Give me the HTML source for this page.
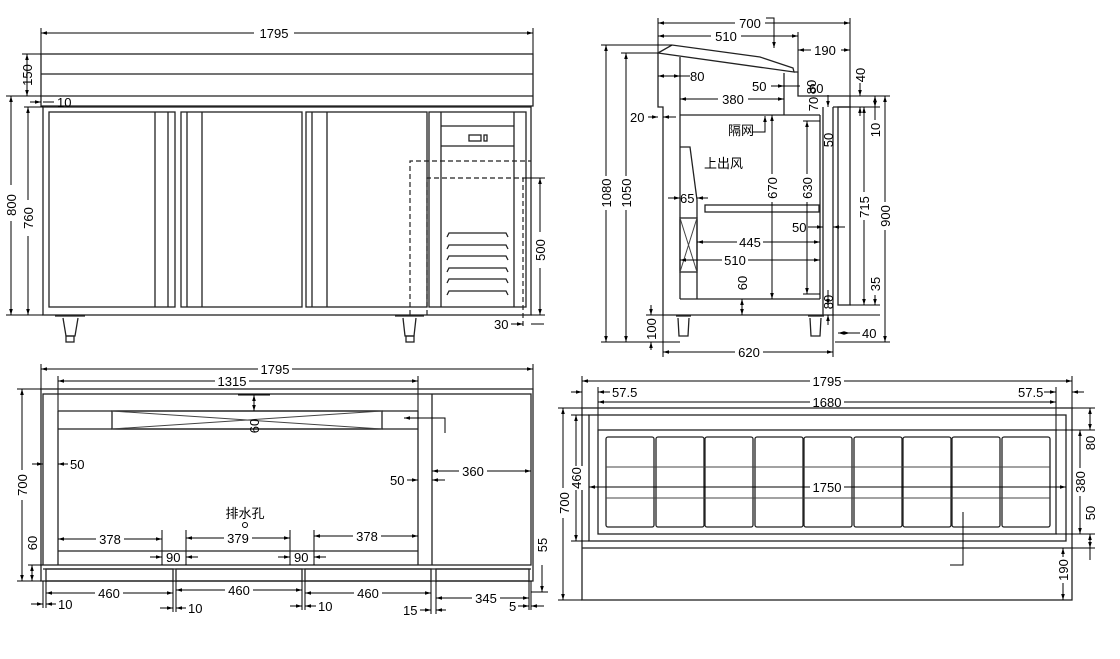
<!DOCTYPE html>
<html><head><meta charset="utf-8"><style>
html,body{margin:0;padding:0;background:#fff}
svg{display:block}
text{font-family:"Liberation Sans","Noto Sans CJK SC",sans-serif;font-size:13px;fill:#000}
.s{stroke:#222;stroke-width:1.3;fill:none}
.t{stroke:#444;stroke-width:1;fill:none}
.d{stroke:#000;stroke-width:1;fill:none;marker-start:url(#a);marker-end:url(#a)}
.e{stroke:#000;stroke-width:1;fill:none}
.h{stroke:#222;stroke-width:1.2;fill:none;stroke-dasharray:5,3}
</style></head><body>
<svg width="1120" height="659" viewBox="0 0 1120 659" xmlns="http://www.w3.org/2000/svg">
<defs><marker id="a" viewBox="0 0 10 10" refX="10" refY="5" markerWidth="6" markerHeight="6" orient="auto-start-reverse"><path d="M0,2 L10,5 L0,8 z" fill="#000"/></marker></defs>

<!-- ============ FRONT VIEW ============ -->
<line class="d" x1="41" y1="33" x2="533" y2="33"/><line class="e" x1="41" y1="28" x2="41" y2="54"/><line class="e" x1="533" y1="28" x2="533" y2="54"/>
<rect x="254" y="26" width="40" height="14" fill="#fff"/><text x="274" y="38" text-anchor="middle">1795</text>
<rect class="s" x="41" y="54" width="492" height="52"/>
<line class="s" x1="41" y1="74" x2="533" y2="74"/><line class="s" x1="41" y1="96" x2="533" y2="96"/>
<rect class="s" x="43" y="107" width="488" height="208"/>
<rect class="s" x="49" y="112" width="126" height="195"/><line class="s" x1="155" y1="112" x2="155" y2="307"/><line class="s" x1="168" y1="112" x2="168" y2="307"/>
<rect class="s" x="181" y="112" width="121" height="195"/><line class="s" x1="187" y1="112" x2="187" y2="307"/><line class="s" x1="202" y1="112" x2="202" y2="307"/>
<rect class="s" x="306" y="112" width="121" height="195"/><line class="s" x1="312" y1="112" x2="312" y2="307"/><line class="s" x1="327" y1="112" x2="327" y2="307"/>
<rect class="s" x="429" y="112" width="97" height="195"/><line class="s" x1="441" y1="112" x2="441" y2="307"/><line class="s" x1="514" y1="112" x2="514" y2="307"/>
<line class="s" x1="441" y1="126" x2="514" y2="126"/><line class="s" x1="441" y1="146" x2="514" y2="146"/>
<rect class="s" x="469" y="135" width="12" height="6"/><rect class="s" x="484" y="135" width="3" height="6"/>
<g class="s">
<path d="M447,237 l2,-4 h57 l2,4"/><path d="M447,249 l2,-4 h57 l2,4"/><path d="M447,260 l2,-4 h57 l2,4"/>
<path d="M447,272 l2,-4 h57 l2,4"/><path d="M447,283 l2,-4 h57 l2,4"/><path d="M447,295 l2,-4 h57 l2,4"/></g>
<path class="h" d="M410,315 V161 H531"/>
<path class="h" d="M427,315 V178 H523 V326"/>
<!-- legs -->
<line class="s" x1="55" y1="316" x2="85" y2="316"/><path class="s" d="M63,318 L66,336 H75 L78,318"/><rect class="s" x="66" y="336" width="8" height="6"/>
<line class="s" x1="395" y1="316" x2="424" y2="316"/><path class="s" d="M403,318 L405,336 H414 L416,318"/><rect class="s" x="406" y="336" width="8" height="6"/>
<!-- front dims -->
<line class="d" x1="27" y1="54" x2="27" y2="96"/><line class="e" x1="22" y1="54" x2="41" y2="54"/>
<text transform="translate(32,75) rotate(-90)" text-anchor="middle">150</text>
<line class="e" x1="6" y1="96" x2="41" y2="96"/>
<line class="d" x1="11" y1="96" x2="11" y2="315"/><rect x="4" y="185" width="14" height="36" fill="#fff"/><text transform="translate(16,205) rotate(-90)" text-anchor="middle">800</text>
<line class="d" x1="28" y1="107" x2="28" y2="315"/><rect x="21" y="200" width="14" height="36" fill="#fff"/><text transform="translate(33,218) rotate(-90)" text-anchor="middle">760</text>
<line class="e" x1="6" y1="315" x2="43" y2="315"/><line class="e" x1="24" y1="107" x2="43" y2="107"/>
<line class="e" x1="30" y1="102" x2="41" y2="102" marker-end="url(#a)"/><line class="e" x1="43" y1="102" x2="54" y2="102"/><text x="57" y="107">10</text>
<line class="d" x1="540" y1="178" x2="540" y2="315"/><line class="e" x1="523" y1="178" x2="545" y2="178"/><line class="e" x1="531" y1="315" x2="545" y2="315"/>
<rect x="533" y="232" width="14" height="36" fill="#fff"/><text transform="translate(545,250) rotate(-90)" text-anchor="middle">500</text>
<text x="494" y="329">30</text><line class="e" x1="511" y1="324" x2="523" y2="324" marker-end="url(#a)"/><line class="e" x1="531" y1="324" x2="544" y2="324"/>

<!-- ============ SIDE VIEW ============ -->
<line class="d" x1="658" y1="23" x2="850" y2="23"/><rect x="735" y="16" width="30" height="14" fill="#fff"/><text x="750" y="28" text-anchor="middle">700</text>
<path class="e" d="M766,18 H774 V48" marker-end="url(#a)"/>
<line class="d" x1="658" y1="36" x2="798" y2="36"/><rect x="711" y="29" width="30" height="14" fill="#fff"/><text x="726" y="41" text-anchor="middle">510</text>
<line class="d" x1="798" y1="50" x2="850" y2="50"/><rect x="811" y="43" width="30" height="14" fill="#fff"/><text x="825" y="55" text-anchor="middle">190</text>
<line class="e" x1="658" y1="18" x2="658" y2="53"/><line class="e" x1="850" y1="18" x2="850" y2="96"/><line class="e" x1="798" y1="32" x2="798" y2="96"/>
<!-- lid -->
<path class="s" d="M658,53 L672,45 L760,57 L793,68 L794,72 L658,53 Z"/>
<path class="s" d="M658,53 V107 H663 V315"/>
<path class="s" d="M680,57 V299"/>
<path class="s" d="M784,73 V115"/>
<line class="s" x1="680" y1="115" x2="820" y2="115"/>
<line class="s" x1="680" y1="299" x2="820" y2="299"/>
<line class="s" x1="820" y1="115" x2="820" y2="299"/>
<path class="s" d="M794,72 H798 V96 H850 V107 H833"/>
<line class="s" x1="663" y1="315" x2="833" y2="315"/>
<line class="s" x1="823" y1="107" x2="823" y2="315"/><line class="s" x1="833" y1="107" x2="833" y2="315"/>
<rect class="s" x="838" y="107" width="12" height="198"/>
<path class="s" d="M680,147 H690 L697,200 V299"/>
<rect class="s" x="680" y="218" width="17" height="54"/><path class="t" d="M680,218 L697,272 M697,218 L680,272"/>
<rect class="s" x="705" y="205" width="114" height="7"/>
<line class="s" x1="676" y1="316" x2="691" y2="316"/><path class="s" d="M678,318 L679,336 H688 L689,318"/>
<line class="s" x1="808" y1="316" x2="824" y2="316"/><path class="s" d="M810,318 L811,336 H820 L821,318"/>
<!-- side dims -->
<line class="e" x1="658" y1="76" x2="680" y2="76" marker-start="url(#a)" marker-end="url(#a)"/><line class="e" x1="680" y1="76" x2="690" y2="76"/><text x="690" y="81">80</text>
<text x="752" y="91">50</text><line class="e" x1="771" y1="86" x2="784" y2="86" marker-end="url(#a)"/><line class="e" x1="784" y1="86" x2="800" y2="86"/>
<line class="d" x1="680" y1="99" x2="784" y2="99"/><rect x="718" y="92" width="30" height="14" fill="#fff"/><text x="733" y="104" text-anchor="middle">380</text>
<text x="630" y="122">20</text><line class="e" x1="648" y1="117" x2="658" y2="117" marker-end="url(#a)"/><line class="e" x1="663" y1="117" x2="676" y2="117" marker-start="url(#a)"/>
<text x="728" y="135" font-size="12">隔网</text><path class="e" d="M752,132 H765 V116" marker-end="url(#a)"/>
<text x="704" y="168" font-size="12">上出风</text>
<text x="680" y="203">65</text><line class="e" x1="668" y1="198" x2="680" y2="198" marker-end="url(#a)"/><line class="e" x1="697" y1="198" x2="708" y2="198" marker-start="url(#a)"/>
<line class="d" x1="772" y1="115" x2="772" y2="299"/><rect x="765" y="174" width="14" height="28" fill="#fff"/><text transform="translate(777,188) rotate(-90)" text-anchor="middle">670</text>
<line class="d" x1="807" y1="121" x2="807" y2="294"/><line class="e" x1="803" y1="121" x2="820" y2="121"/><line class="e" x1="803" y1="294" x2="820" y2="294"/>
<rect x="800" y="174" width="14" height="28" fill="#fff"/><text transform="translate(812,188) rotate(-90)" text-anchor="middle">630</text>
<text x="792" y="232">50</text><line class="e" x1="808" y1="227" x2="823" y2="227" marker-end="url(#a)"/><line class="e" x1="833" y1="227" x2="845" y2="227" marker-start="url(#a)"/>
<line class="d" x1="697" y1="242" x2="820" y2="242"/><rect x="737" y="235" width="26" height="14" fill="#fff"/><text x="750" y="247" text-anchor="middle">445</text>
<line class="d" x1="680" y1="260" x2="820" y2="260"/><rect x="722" y="253" width="26" height="14" fill="#fff"/><text x="735" y="265" text-anchor="middle">510</text>
<line class="e" x1="742" y1="299" x2="742" y2="315" marker-start="url(#a)" marker-end="url(#a)"/><text transform="translate(747,283) rotate(-90)" text-anchor="middle">60</text>
<line class="e" x1="601" y1="45" x2="672" y2="45"/><line class="e" x1="601" y1="342" x2="680" y2="342"/>
<line class="d" x1="606" y1="45" x2="606" y2="342"/><rect x="599" y="176" width="14" height="34" fill="#fff"/><text transform="translate(611,193) rotate(-90)" text-anchor="middle">1080</text>
<line class="e" x1="621" y1="53" x2="658" y2="53"/>
<line class="d" x1="626" y1="53" x2="626" y2="342"/><rect x="619" y="176" width="14" height="34" fill="#fff"/><text transform="translate(631,193) rotate(-90)" text-anchor="middle">1050</text>
<line class="e" x1="646" y1="315" x2="663" y2="315"/>
<line class="e" x1="651" y1="305" x2="651" y2="315" marker-end="url(#a)"/><line class="e" x1="651" y1="342" x2="651" y2="350" marker-start="url(#a)"/><text transform="translate(656,329) rotate(-90)" text-anchor="middle">100</text>
<line class="e" x1="663" y1="315" x2="663" y2="357"/><line class="e" x1="833" y1="315" x2="833" y2="357"/>
<line class="d" x1="663" y1="352" x2="833" y2="352"/><rect x="735" y="345" width="28" height="14" fill="#fff"/><text x="749" y="357" text-anchor="middle">620</text>
<line class="e" x1="860" y1="83" x2="860" y2="96" marker-end="url(#a)"/><line class="e" x1="860" y1="107" x2="860" y2="116" marker-start="url(#a)"/><text transform="translate(865,75) rotate(-90)" text-anchor="middle">40</text>
<line class="e" x1="850" y1="96" x2="890" y2="96"/><line class="e" x1="850" y1="107" x2="880" y2="107"/>
<line class="e" x1="875" y1="96" x2="875" y2="107" marker-start="url(#a)" marker-end="url(#a)"/><line class="e" x1="875" y1="107" x2="875" y2="120"/><text transform="translate(880,130) rotate(-90)" text-anchor="middle">10</text>
<line class="d" x1="864" y1="107" x2="864" y2="305"/><rect x="857" y="192" width="14" height="28" fill="#fff"/><text transform="translate(869,207) rotate(-90)" text-anchor="middle">715</text>
<line class="d" x1="885" y1="96" x2="885" y2="342"/><rect x="878" y="202" width="14" height="28" fill="#fff"/><text transform="translate(890,216) rotate(-90)" text-anchor="middle">900</text>
<line class="e" x1="850" y1="305" x2="880" y2="305"/><line class="e" x1="833" y1="315" x2="880" y2="315"/><line class="e" x1="835" y1="342" x2="890" y2="342"/>
<line class="e" x1="875" y1="295" x2="875" y2="305" marker-end="url(#a)"/><text transform="translate(880,284) rotate(-90)" text-anchor="middle">35</text>
<line class="e" x1="838" y1="333" x2="850" y2="333" marker-start="url(#a)" marker-end="url(#a)"/><line class="e" x1="850" y1="333" x2="860" y2="333"/><text x="862" y="338">40</text>
<line class="e" x1="828" y1="290" x2="828" y2="305" marker-end="url(#a)"/><line class="e" x1="828" y1="315" x2="828" y2="325" marker-start="url(#a)"/><text transform="translate(833,302) rotate(-90)" text-anchor="middle">80</text>
<text transform="translate(833,140) rotate(-90)" text-anchor="middle">50</text><line class="e" x1="828" y1="95" x2="828" y2="107" marker-end="url(#a)"/>
<text transform="translate(818,104) rotate(-90)" text-anchor="middle">70</text>
<text transform="translate(816,87) rotate(-90)" text-anchor="middle">80</text>
<text x="809" y="93">60</text>

<!-- ============ TOP VIEW ============ -->
<line class="d" x1="41" y1="369" x2="533" y2="369"/><line class="e" x1="41" y1="364" x2="41" y2="389"/><line class="e" x1="533" y1="364" x2="533" y2="389"/>
<rect x="258" y="362" width="34" height="14" fill="#fff"/><text x="275" y="374" text-anchor="middle">1795</text>
<line class="d" x1="58" y1="381" x2="418" y2="381"/><line class="e" x1="58" y1="376" x2="58" y2="411"/><line class="e" x1="418" y1="376" x2="418" y2="411"/>
<rect x="215" y="374" width="34" height="14" fill="#fff"/><text x="232" y="386" text-anchor="middle">1315</text>
<rect class="s" x="41" y="389" width="492" height="192"/>
<rect class="s" x="43" y="394" width="488" height="171"/>
<line class="s" x1="432" y1="394" x2="432" y2="565"/>
<line class="s" x1="58" y1="411" x2="58" y2="565"/><line class="s" x1="418" y1="411" x2="418" y2="565"/>
<line class="s" x1="58" y1="411" x2="418" y2="411"/><line class="s" x1="58" y1="429" x2="418" y2="429"/>
<rect class="s" x="112" y="411" width="270" height="18"/><path class="t" d="M112,411 L382,429 M382,411 L112,429"/>
<line class="e" x1="254" y1="395" x2="254" y2="411" marker-start="url(#a)" marker-end="url(#a)"/><line class="e" x1="238" y1="395" x2="270" y2="395"/>
<text transform="translate(259,426) rotate(-90)" text-anchor="middle">60</text>
<path class="e" d="M445,433 V418 H404" marker-end="url(#a)"/>
<line class="e" x1="32" y1="464" x2="43" y2="464" marker-end="url(#a)"/><line class="e" x1="58" y1="464" x2="68" y2="464" marker-start="url(#a)"/><text x="70" y="469">50</text>
<text x="390" y="485">50</text><line class="e" x1="407" y1="480" x2="418" y2="480" marker-end="url(#a)"/><line class="e" x1="432" y1="480" x2="445" y2="480" marker-start="url(#a)"/>
<line class="d" x1="432" y1="471" x2="531" y2="471"/><rect x="459" y="464" width="28" height="14" fill="#fff"/><text x="473" y="476" text-anchor="middle">360</text>
<text x="245" y="518" text-anchor="middle" font-size="12">排水孔</text><circle class="e" cx="245" cy="525" r="2.5"/>
<line class="d" x1="58" y1="539" x2="162" y2="539"/><rect x="96" y="532" width="28" height="14" fill="#fff"/><text x="110" y="544" text-anchor="middle">378</text>
<line class="d" x1="186" y1="538" x2="290" y2="538"/><rect x="224" y="531" width="28" height="14" fill="#fff"/><text x="238" y="543" text-anchor="middle">379</text>
<line class="d" x1="314" y1="536" x2="418" y2="536"/><rect x="353" y="529" width="28" height="14" fill="#fff"/><text x="367" y="541" text-anchor="middle">378</text>
<line class="e" x1="162" y1="530" x2="162" y2="565"/><line class="e" x1="186" y1="530" x2="186" y2="565"/><line class="e" x1="290" y1="530" x2="290" y2="565"/><line class="e" x1="314" y1="530" x2="314" y2="565"/>
<line class="s" x1="58" y1="551" x2="418" y2="551"/>
<line class="e" x1="150" y1="557" x2="162" y2="557" marker-end="url(#a)"/><text x="166" y="562">90</text><line class="e" x1="186" y1="557" x2="198" y2="557" marker-start="url(#a)"/>
<line class="e" x1="278" y1="557" x2="290" y2="557" marker-end="url(#a)"/><text x="294" y="562">90</text><line class="e" x1="314" y1="557" x2="326" y2="557" marker-start="url(#a)"/>
<line class="s" x1="43" y1="569" x2="531" y2="569"/>
<rect class="s" x="46" y="569" width="127" height="12"/><rect class="s" x="176" y="569" width="126" height="12"/><rect class="s" x="305" y="569" width="126" height="12"/><rect class="s" x="436" y="569" width="93" height="12"/>
<line class="e" x1="46" y1="581" x2="46" y2="608"/><line class="e" x1="43" y1="581" x2="43" y2="608"/><line class="e" x1="173" y1="581" x2="173" y2="612"/><line class="e" x1="176" y1="581" x2="176" y2="612"/>
<line class="e" x1="302" y1="581" x2="302" y2="610"/><line class="e" x1="305" y1="581" x2="305" y2="610"/><line class="e" x1="431" y1="581" x2="431" y2="614"/><line class="e" x1="436" y1="581" x2="436" y2="614"/>
<line class="e" x1="529" y1="581" x2="529" y2="610"/><line class="e" x1="531" y1="581" x2="531" y2="610"/>
<line class="d" x1="46" y1="593" x2="173" y2="593"/><rect x="95" y="586" width="28" height="14" fill="#fff"/><text x="109" y="598" text-anchor="middle">460</text>
<line class="d" x1="176" y1="590" x2="302" y2="590"/><rect x="225" y="583" width="28" height="14" fill="#fff"/><text x="239" y="595" text-anchor="middle">460</text>
<line class="d" x1="305" y1="593" x2="431" y2="593"/><rect x="354" y="586" width="28" height="14" fill="#fff"/><text x="368" y="598" text-anchor="middle">460</text>
<line class="d" x1="436" y1="598" x2="529" y2="598"/><rect x="472" y="591" width="28" height="14" fill="#fff"/><text x="486" y="603" text-anchor="middle">345</text>
<line class="e" x1="31" y1="604" x2="43" y2="604" marker-end="url(#a)"/><line class="e" x1="46" y1="604" x2="56" y2="604" marker-start="url(#a)"/><text x="58" y="609">10</text>
<line class="e" x1="160" y1="608" x2="173" y2="608" marker-end="url(#a)"/><line class="e" x1="176" y1="608" x2="186" y2="608" marker-start="url(#a)"/><text x="188" y="613">10</text>
<line class="e" x1="290" y1="606" x2="302" y2="606" marker-end="url(#a)"/><line class="e" x1="305" y1="606" x2="316" y2="606" marker-start="url(#a)"/><text x="318" y="611">10</text>
<text x="403" y="615">15</text><line class="e" x1="420" y1="610" x2="431" y2="610" marker-end="url(#a)"/><line class="e" x1="436" y1="610" x2="446" y2="610" marker-start="url(#a)"/>
<text x="509" y="611">5</text><line class="e" x1="518" y1="606" x2="529" y2="606" marker-end="url(#a)"/><line class="e" x1="531" y1="606" x2="544" y2="606" marker-start="url(#a)"/>
<line class="e" x1="17" y1="389" x2="41" y2="389"/><line class="e" x1="17" y1="581" x2="41" y2="581"/>
<line class="d" x1="22" y1="389" x2="22" y2="581"/><rect x="15" y="470" width="14" height="30" fill="#fff"/><text transform="translate(27,485) rotate(-90)" text-anchor="middle">700</text>
<line class="e" x1="28" y1="565" x2="43" y2="565"/>
<line class="e" x1="32" y1="565" x2="32" y2="581" marker-start="url(#a)" marker-end="url(#a)"/><text transform="translate(37,543) rotate(-90)" text-anchor="middle">60</text>
<line class="e" x1="531" y1="592" x2="548" y2="592"/>
<line class="e" x1="542" y1="565" x2="542" y2="581"/><line class="e" x1="542" y1="581" x2="542" y2="592" marker-end="url(#a)"/><text transform="translate(547,545) rotate(-90)" text-anchor="middle">55</text>

<!-- ============ PLAN VIEW (right) ============ -->
<line class="d" x1="582" y1="381" x2="1072" y2="381"/><line class="e" x1="582" y1="376" x2="582" y2="408"/><line class="e" x1="1072" y1="376" x2="1072" y2="408"/>
<rect x="810" y="374" width="34" height="14" fill="#fff"/><text x="827" y="386" text-anchor="middle">1795</text>
<line class="e" x1="571" y1="392" x2="582" y2="392" marker-end="url(#a)"/><line class="e" x1="598" y1="392" x2="610" y2="392" marker-start="url(#a)"/><text x="612" y="397">57.5</text>
<text x="1018" y="397">57.5</text><line class="e" x1="1044" y1="392" x2="1056" y2="392" marker-end="url(#a)"/><line class="e" x1="1072" y1="392" x2="1084" y2="392" marker-start="url(#a)"/>
<line class="e" x1="598" y1="387" x2="598" y2="430"/><line class="e" x1="1056" y1="387" x2="1056" y2="430"/>
<line class="d" x1="598" y1="402" x2="1056" y2="402"/><rect x="810" y="395" width="34" height="14" fill="#fff"/><text x="827" y="407" text-anchor="middle">1680</text>
<rect class="s" x="582" y="408" width="490" height="192"/>
<line class="s" x1="582" y1="548" x2="1072" y2="548"/>
<rect class="s" x="589" y="415" width="477" height="126"/>
<rect class="s" x="598" y="430" width="458" height="104"/>
<g class="s">
<rect x="606" y="437" width="48" height="90" rx="2"/><rect x="656" y="437" width="48" height="90" rx="2"/><rect x="705" y="437" width="48" height="90" rx="2"/>
<rect x="755" y="437" width="48" height="90" rx="2"/><rect x="804" y="437" width="48" height="90" rx="2"/><rect x="854" y="437" width="48" height="90" rx="2"/>
<rect x="903" y="437" width="48" height="90" rx="2"/><rect x="952" y="437" width="48" height="90" rx="2"/><rect x="1002" y="437" width="48" height="90" rx="2"/>
</g>
<line class="t" x1="606" y1="467" x2="1050" y2="467"/><line class="t" x1="606" y1="498" x2="1050" y2="498"/>
<line class="d" x1="589" y1="487" x2="1066" y2="487"/><rect x="810" y="480" width="34" height="14" fill="#fff"/><text x="827" y="492" text-anchor="middle">1750</text>
<path class="e" d="M963,512 V565 H950"/>
<line class="e" x1="558" y1="408" x2="582" y2="408"/><line class="e" x1="558" y1="600" x2="582" y2="600"/>
<line class="d" x1="563" y1="408" x2="563" y2="600"/><rect x="556" y="488" width="14" height="30" fill="#fff"/><text transform="translate(569,503) rotate(-90)" text-anchor="middle">700</text>
<line class="e" x1="571" y1="415" x2="589" y2="415"/><line class="e" x1="571" y1="541" x2="589" y2="541"/>
<line class="d" x1="576" y1="415" x2="576" y2="541"/><rect x="569" y="466" width="14" height="24" fill="#fff"/><text transform="translate(581,478) rotate(-90)" text-anchor="middle">460</text>
<line class="e" x1="1056" y1="430" x2="1095" y2="430"/><line class="e" x1="1056" y1="534" x2="1095" y2="534"/><line class="e" x1="1072" y1="408" x2="1095" y2="408"/><line class="e" x1="1072" y1="548" x2="1095" y2="548"/>
<line class="d" x1="1080" y1="430" x2="1080" y2="534"/><rect x="1073" y="468" width="14" height="28" fill="#fff"/><text transform="translate(1085,482) rotate(-90)" text-anchor="middle">380</text>
<line class="d" x1="1090" y1="408" x2="1090" y2="430"/><text transform="translate(1095,443) rotate(-90)" text-anchor="middle">80</text>
<line class="e" x1="1090" y1="534" x2="1090" y2="548" marker-start="url(#a)" marker-end="url(#a)"/><line class="e" x1="1090" y1="548" x2="1090" y2="560"/><text transform="translate(1095,513) rotate(-90)" text-anchor="middle">50</text>
<line class="d" x1="1063" y1="548" x2="1063" y2="600"/><rect x="1056" y="557" width="14" height="26" fill="#fff"/><text transform="translate(1068,570) rotate(-90)" text-anchor="middle">190</text>
</svg>
</body></html>
